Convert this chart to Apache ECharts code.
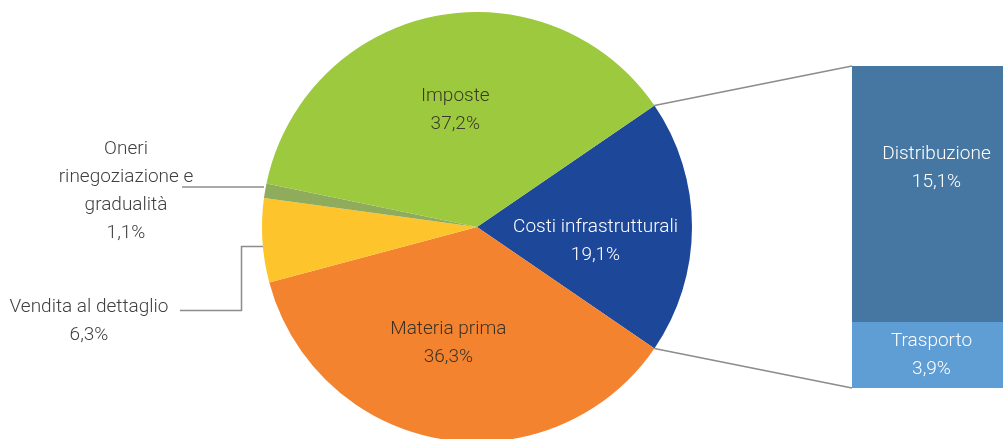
<!DOCTYPE html>
<html><head><meta charset="utf-8">
<script src="https://cdn.jsdelivr.net/npm/echarts@6/dist/echarts.min.js"></script>
<style>html,body{margin:0;padding:0;background:#fff}#c{width:1003px;height:439px}</style>
</head><body><div id="c"></div>
<script>
// Pie data (order: clockwise starting from the split slice)
const pieNames = ['Costi infrastrutturali', 'Materia prima', 'Vendita al dettaglio', 'Oneri\nrinegoziazione e\ngradualità', 'Imposte'];
const pieValues = [19.1, 36.3, 6.3, 1.1, 37.2];
const pieColors = ['#1d4799', '#f3832f', '#fec42b', '#8fac5c', '#9dc93e'];
const pieTextColors = ['#ffffff', '#3b3226', '#404040', '#404040', '#3a3a28'];
// Breakdown bar (bottom to top)
const barNames = ['Trasporto', 'Distribuzione'];
const barValues = [3.9, 15.1];
const barColors = ['#5f9dd5', '#4677a3'];

const FONT = 'Roboto, "Liberation Sans", sans-serif';
const FW = 300;
const FS = 19;
const fmt = v => v.toFixed(1).replace('.', ',') + '%';
const total = pieValues.reduce((a, b) => a + b, 0);
const startAngle = pieValues[0] / total * 360 / 2;

const chart = echarts.init(document.getElementById('c'), null, {renderer: 'canvas'});

const insideOffsets = {0: [8, 14], 1: [-10, 7], 4: [0, -8]};

const option = {
  animation: false,
  textStyle: {fontFamily: FONT},
  grid: {left: 852, right: 0, top: 66, bottom: 51},
  xAxis: {type: 'category', data: [''], show: false},
  yAxis: {type: 'value', min: 0, max: barValues.reduce((a, b) => a + b, 0), show: false},
  series: [
    {
      type: 'pie',
      center: [477, 227],
      radius: 215,
      startAngle: startAngle,
      clockwise: true,
      avoidLabelOverlap: false,
      minAngle: 0,
      silent: true,
      label: {
        position: 'inside',
        fontFamily: FONT,
        fontWeight: FW,
        fontSize: FS,
        lineHeight: 28,
        align: 'center',
        formatter: p => p.name + '\n' + fmt(p.value)
      },
      labelLine: {show: false},
      labelLayout: function (p) {
        const i = p.dataIndex;
        if (i === 3) {
          return {x: 126, y: 191, align: 'center', verticalAlign: 'middle',
            labelLinePoints: [[264, 187], [223, 187], [182, 187]]};
        }
        if (i === 2) {
          return {x: 89, y: 321, align: 'center', verticalAlign: 'middle',
            labelLinePoints: [[264, 246.5], [241.5, 246.5], [241.5, 310.5], [180, 310.5]]};
        }
        return {};
      },
      data: pieNames.map((n, i) => {
        const outside = (i === 2 || i === 3);
        const lbl = {position: outside ? 'outside' : 'inside', color: pieTextColors[i]};
        if (insideOffsets[i]) lbl.offset = insideOffsets[i];
        return {
          name: n, value: pieValues[i],
          itemStyle: {color: pieColors[i]},
          label: lbl,
          labelLine: {show: outside, length: 10, length2: 10, lineStyle: {color: '#8c8c8c', width: 1.5}}
        };
      })
    },
    ...barNames.map((n, i) => ({
      type: 'bar',
      name: n,
      stack: 'split',
      barWidth: '100%',
      silent: true,
      data: [barValues[i]],
      itemStyle: {color: barColors[i]},
      label: {
        show: true, position: 'inside', color: '#ffffff',
        fontFamily: FONT, fontWeight: FW, fontSize: FS, lineHeight: 28,
        offset: i === 1 ? [9, -26] : [4, 0],
        formatter: p => n + '\n' + fmt(p.value)
      }
    }))
  ]
};
chart.setOption(option);

// Connector lines from the split slice edges to the bar's corners
const lay = chart.getModel().getSeriesByIndex(0).getData().getItemLayout(0);
const topPx = chart.convertToPixel({gridIndex: 0}, [0, barValues.reduce((a, b) => a + b, 0)]);
const botPx = chart.convertToPixel({gridIndex: 0}, [0, 0]);
const barLeft = option.grid.left;
const p1 = [lay.cx + lay.r * Math.cos(lay.startAngle), lay.cy + lay.r * Math.sin(lay.startAngle)];
const p2 = [lay.cx + lay.r * Math.cos(lay.endAngle), lay.cy + lay.r * Math.sin(lay.endAngle)];
chart.setOption({
  graphic: [
    {type: 'line', shape: {x1: p1[0], y1: p1[1], x2: barLeft, y2: topPx[1]}, style: {stroke: '#8c8c8c', lineWidth: 1.5}, silent: true},
    {type: 'line', shape: {x1: p2[0], y1: p2[1], x2: barLeft, y2: botPx[1]}, style: {stroke: '#8c8c8c', lineWidth: 1.5}, silent: true}
  ]
});
</script></body></html>
